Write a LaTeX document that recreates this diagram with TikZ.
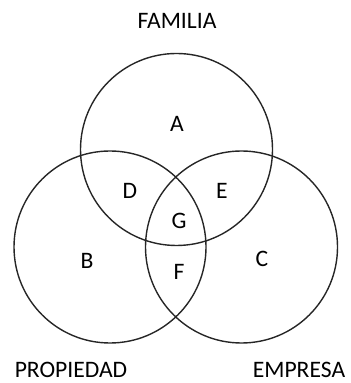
\documentclass[tikz,border=0pt]{standalone}
\usepackage{fontspec}
\setmainfont{Carlito}
\usetikzlibrary{positioning}

\begin{document}
\begin{tikzpicture}[
      x=0.5pt, y=-0.5pt,
      font=\fontsize{11.8}{13}\selectfont,
      set/.style={draw=black!85, circle, line width=0.7pt,
                  minimum size=96pt, inner sep=0pt},
      region/.style={inner sep=1pt},
      title/.style={inner sep=0.5pt}
    ]
    \useasboundingbox (0,0) rectangle (350,383);

    % --- the three sets ----------------------------------------------------
    \node[set] (fam) at (176.5,149.5) {};
    \node[set] (pro) at (110,247)     {};
    \node[set] (emp) at (241.5,247)   {};

    % --- set names ---------------------------------------------------------
    \node[title] (tfam) at (177,21)  {FAMILIA};
    \node[title] (tpro) at (71,370)  {PROPIEDAD};
    \node[title] (temp) at (299,370) {EMPRESA};

    % --- regions -----------------------------------------------------------
    \node[region] (ra) at (177,124) {A};
    \node[region] (rb) at (87,261)  {B};
    \node[region] (rc) at (262,259) {C};
    \node[region] (rd) at (130,191) {D};
    \node[region] (re) at (222,191) {E};
    \node[region] (rf) at (179,272) {F};
    \node[region] (rg) at (179,221) {G};
  \end{tikzpicture}
\end{document}
